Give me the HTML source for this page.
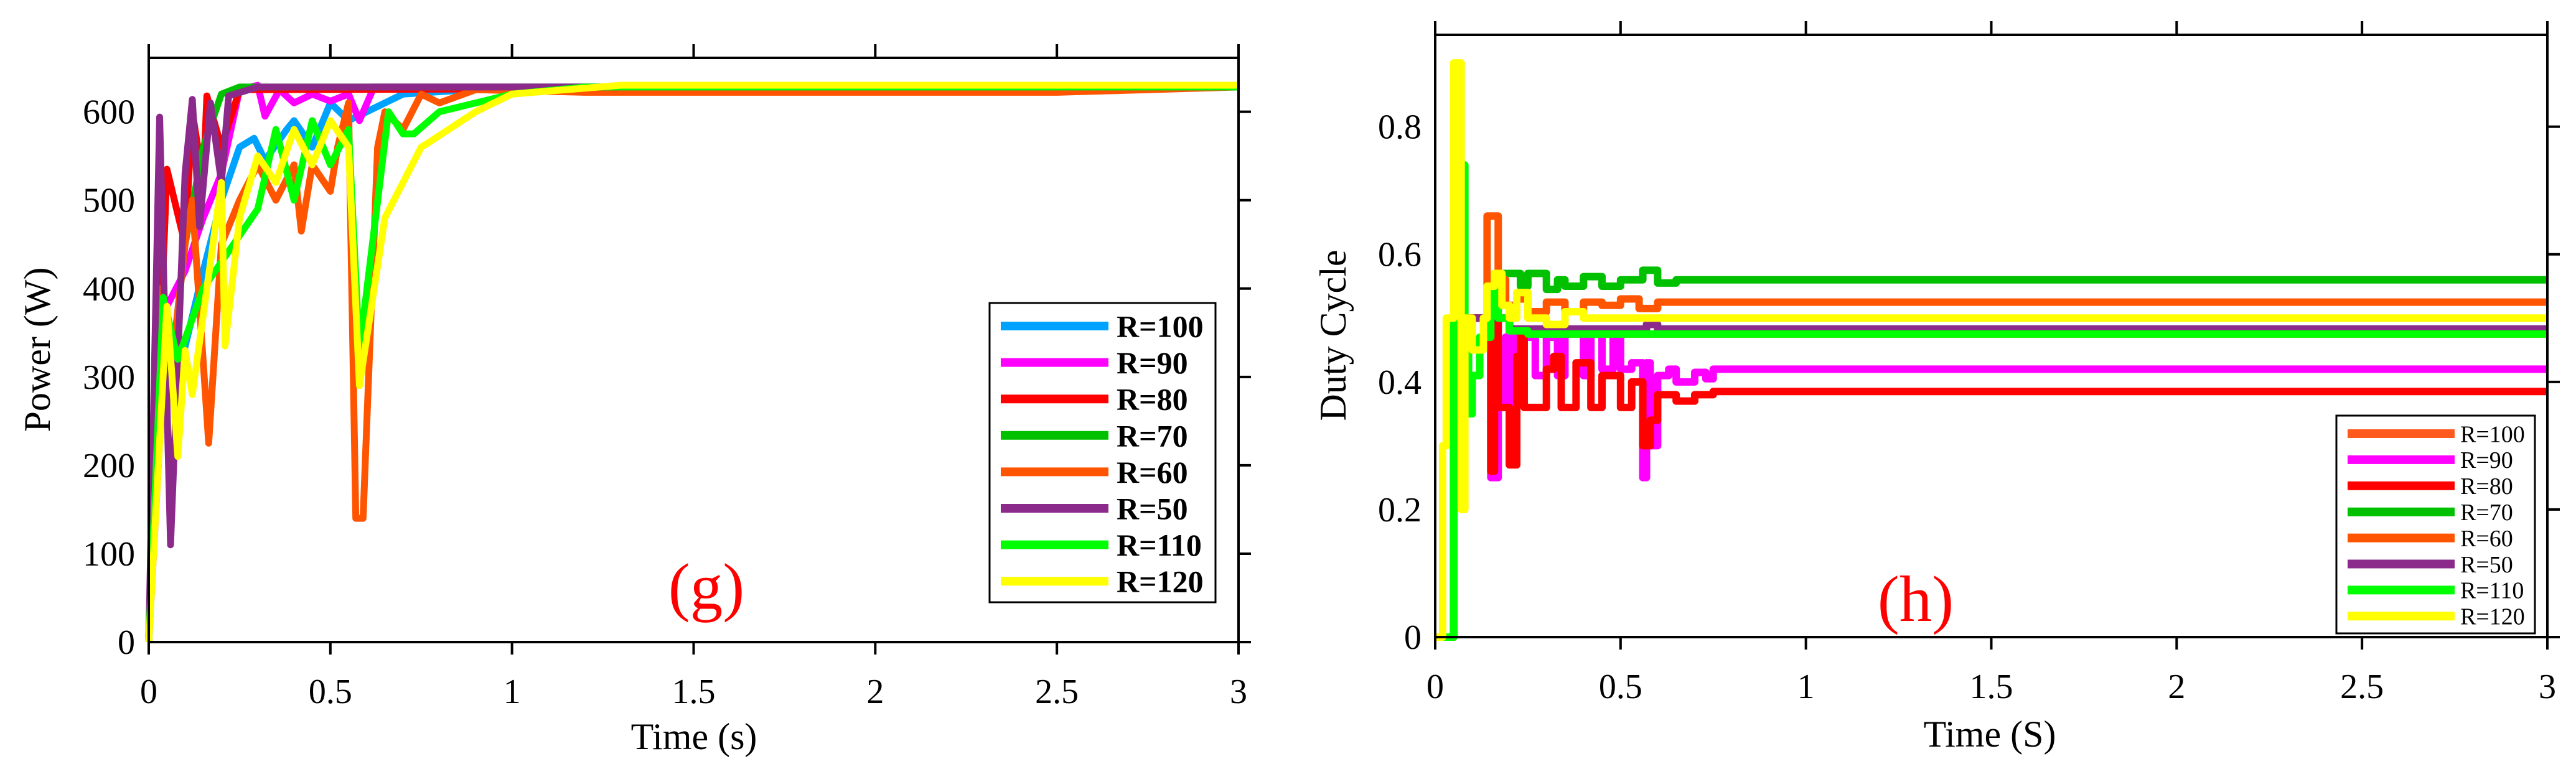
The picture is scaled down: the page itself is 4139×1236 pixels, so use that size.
<!DOCTYPE html>
<html><head><meta charset="utf-8"><style>
body{margin:0;background:#fff}
svg{display:block}
text{font-family:"Liberation Serif",serif;fill:#000}
</style></head><body>
<svg id="s" width="4139" height="1236" viewBox="0 0 4139 1236"></svg>
<script>
// ---- Chart (g) Power data ----
const gNames=["R=100","R=90","R=80","R=70","R=60","R=50","R=110","R=120"];
const gColors=["#00a2ff","#ff00ff","#ff0000","#00c000","#ff5500","#8b2a8b","#00ff00","#ffff00"];
const gR100=[[0,0],[0.04,360],[0.08,300],[0.15,420],[0.2,500],[0.25,560],[0.29,570],[0.32,545],[0.38,580],[0.4,590],[0.45,560],[0.5,610],[0.55,590],[0.6,600],[0.7,620],[1,628],[3,628]];
const gR90=[[0,0],[0.05,380],[0.1,420],[0.15,480],[0.2,530],[0.25,625],[0.3,630],[0.32,595],[0.36,625],[0.4,610],[0.45,620],[0.5,612],[0.55,620],[0.58,590],[0.62,628],[3,628]];
const gR80=[[0,0],[0.05,535],[0.1,450],[0.12,600],[0.15,520],[0.16,618],[0.2,560],[0.25,625],[3,628]];
const gR70=[[0,0],[0.03,390],[0.06,300],[0.1,450],[0.15,560],[0.2,620],[0.25,628],[3,628]];
const gR60=[[0,0],[0.03,400],[0.06,300],[0.1,450],[0.12,500],[0.165,225],[0.2,450],[0.25,500],[0.3,540],[0.35,500],[0.4,540],[0.42,465],[0.45,540],[0.5,510],[0.52,560],[0.55,610],[0.57,140],[0.59,140],[0.63,560],[0.65,600],[0.7,580],[0.75,620],[0.8,610],[0.9,625],[1.2,622],[2.5,622],[3,628]];
const gR50=[[0,0],[0.03,594],[0.06,110],[0.1,530],[0.12,614],[0.14,470],[0.17,610],[0.2,520],[0.22,618],[0.3,628],[3,628]];
const gR110=[[0,0],[0.04,390],[0.08,320],[0.15,400],[0.3,490],[0.35,580],[0.4,500],[0.45,590],[0.5,540],[0.55,580],[0.58,330],[0.66,600],[0.7,575],[0.73,575],[0.8,600],[0.9,610],[1.0,620],[1.2,628],[3,628]];
const gR120=[[0,0],[0.05,380],[0.08,210],[0.1,330],[0.12,280],[0.2,520],[0.21,335],[0.25,480],[0.3,550],[0.35,520],[0.4,580],[0.45,540],[0.5,590],[0.55,560],[0.58,290],[0.65,480],[0.75,560],[0.77,565],[0.9,600],[1.0,620],[1.3,630],[3,630]];
const gSeries=[gR100,gR90,gR80,gR70,gR60,gR50,gR110,gR120];
const gXTicks=[0,0.5,1,1.5,2,2.5,3];
const gYTicks=[0,100,200,300,400,500,600];
// ---- Chart (h) Duty data ----
const hColors=["#ff5a1e","#ff00ff","#ff0000","#00c000","#ff5500","#8b2a8b","#00ff00","#ffff00"];
const hR100=[[0,0],[0.05,0.5],[0.2,0.475],[3,0.475]];
const hR90=[[0,0],[0.05,0.5],[0.15,0.25],[0.17,0.36],[0.19,0.47],[0.21,0.29],[0.22,0.48],[0.25,0.47],[0.27,0.41],[0.3,0.47],[0.33,0.41],[0.35,0.48],[0.4,0.41],[0.42,0.48],[0.45,0.42],[0.48,0.47],[0.5,0.42],[0.53,0.43],[0.56,0.25],[0.57,0.43],[0.58,0.3],[0.6,0.41],[0.63,0.42],[0.65,0.4],[0.7,0.415],[0.73,0.405],[0.75,0.42],[3,0.42]];
const hR80=[[0,0],[0.05,0.5],[0.15,0.26],[0.16,0.52],[0.17,0.36],[0.2,0.27],[0.22,0.44],[0.23,0.48],[0.24,0.36],[0.3,0.42],[0.32,0.44],[0.34,0.36],[0.38,0.43],[0.42,0.36],[0.45,0.41],[0.5,0.36],[0.53,0.4],[0.56,0.3],[0.58,0.34],[0.6,0.38],[0.65,0.37],[0.7,0.38],[0.75,0.385],[3,0.385]];
const hR70=[[0,0],[0.05,0.5],[0.16,0.57],[0.23,0.55],[0.25,0.57],[0.3,0.545],[0.33,0.56],[0.35,0.55],[0.4,0.565],[0.45,0.55],[0.5,0.56],[0.56,0.575],[0.6,0.555],[0.65,0.56],[3,0.56]];
const hR60=[[0,0],[0.05,0.5],[0.14,0.66],[0.17,0.56],[0.19,0.52],[0.22,0.53],[0.25,0.51],[0.3,0.525],[0.35,0.51],[0.4,0.525],[0.45,0.52],[0.5,0.53],[0.55,0.515],[0.6,0.525],[3,0.525]];
const hR50=[[0,0],[0.05,0.5],[0.2,0.483],[0.55,0.483],[0.57,0.49],[0.6,0.483],[3,0.483]];
const hR110=[[0,0],[0.05,0.5],[0.07,0.74],[0.08,0.5],[0.09,0.35],[0.1,0.41],[0.12,0.47],[0.15,0.55],[0.17,0.5],[0.2,0.48],[0.25,0.475],[3,0.475]];
const hR120=[[0,0],[0.02,0.3],[0.03,0.5],[0.05,0.9],[0.07,0.2],[0.08,0.5],[0.1,0.45],[0.13,0.5],[0.14,0.55],[0.16,0.57],[0.18,0.52],[0.2,0.5],[0.22,0.54],[0.25,0.5],[0.3,0.49],[0.35,0.51],[0.4,0.5],[3,0.5]];
const hSeries=[hR100,hR90,hR80,hR70,hR60,hR50,hR110,hR120];
const hXTicks=[0,0.5,1,1.5,2,2.5,3];
const hYTicks=[0,0.2,0.4,0.6,0.8];

const NS="http://www.w3.org/2000/svg";
const svg=document.getElementById('s');
function mk(tag,attrs,parent,txt){const e=document.createElementNS(NS,tag);for(const k in attrs)e.setAttribute(k,attrs[k]);if(txt!==undefined)e.textContent=txt;(parent||svg).appendChild(e);return e;}

function chart(o){
  const g=mk('g',{});
  
  
  const sx=v=>o.x0+(v-o.xmin)/(o.xmax-o.xmin)*(o.x1-o.x0);
  const sy=v=>o.yb-(v-o.ymin)/(o.ymax-o.ymin)*(o.yb-o.yt);
  o.series.forEach((s,i)=>{
    let d='';
    s.forEach((p,j)=>{
      if(j===0)d+='M'+sx(p[0])+','+sy(p[1]);
      else if(o.step)d+='H'+sx(p[0])+'V'+sy(p[1]);
      else d+='L'+sx(p[0])+','+sy(p[1]);
    });
    const pth=mk('path',{d:d,fill:'none',stroke:o.colors[i],'stroke-width':o.lw,'stroke-linejoin':'round'},g);
    
    
  });
  const fr=mk('g',{stroke:'#000','stroke-width':4,fill:'none'},g);
  
  
  mk('line',{x1:o.x0,y1:o.yt,x2:o.x1,y2:o.yt},fr);
  mk('line',{x1:o.x0,y1:o.yb,x2:o.x1+20,y2:o.yb},fr);
  mk('line',{x1:o.x0,y1:o.yt-20,x2:o.x0,y2:o.yb+20},fr);
  mk('line',{x1:o.x1,y1:o.yt-20,x2:o.x1,y2:o.yb+20},fr);
  o.xticks.forEach(t=>{
    mk('line',{x1:sx(t),y1:o.yt,x2:sx(t),y2:o.yt-22},fr);
    mk('line',{x1:sx(t),y1:o.yb,x2:sx(t),y2:o.yb+20},fr);
    const tx=mk('text',{x:sx(t),y:o.yb+98,'text-anchor':'middle','font-size':56},g,String(t));
    
    
  });
  o.yticks.forEach(t=>{
    mk('line',{x1:o.x1,y1:sy(t),x2:o.x1+20,y2:sy(t)},fr);
    const tx=mk('text',{x:o.x0-22,y:sy(t)+19,'text-anchor':'end','font-size':56},g,String(t));
    
    
  });
  const xt=mk('text',{x:o.xtx,y:o.xty,'text-anchor':'middle','font-size':60},g,o.xtitle);
  
  
  const yt=mk('text',{x:0,y:0,'text-anchor':'middle','font-size':60,transform:'translate('+o.ytx+','+o.yty+') rotate(-90)'},g,o.ytitle);
  
  
  const pl=mk('text',{x:o.lbx,y:o.lby,'text-anchor':'middle','font-size':105,style:'fill:#ff0000'},g,o.label);
  
  
  const L=o.leg;
  const lg=mk('g',{},g);
  
  
  mk('rect',{x:L.x,y:L.y,width:L.w,height:L.h,fill:'#fff',stroke:'#000','stroke-width':3},lg);
  o.names.forEach((n,i)=>{
    const y=L.e0+i*L.step;
    const en=mk('g',{},lg);
    
    
    mk('line',{x1:L.l0,y1:y,x2:L.l1,y2:y,stroke:o.colors[i],'stroke-width':L.lw},en);
    mk('text',{x:L.tx,y:y+L.fs*0.35,'font-size':L.fs,style:L.bold?'font-weight:bold':''},en,n);
  });
}

chart({name:'power-chart',x0:239,x1:1990,yt:93,yb:1032,xmin:0,xmax:3,ymin:0,ymax:661,
  series:gSeries,colors:gColors,names:gNames,lw:11,step:false,xticks:gXTicks,yticks:gYTicks,
  xtitle:'Time (s)',xtx:1115,xty:1204,ytitle:'Power (W)',ytx:80,yty:562,label:'(g)',lbx:1135,lby:978,
  leg:{x:1590,y:487,w:363,h:481,e0:524,step:58.6,l0:1608,l1:1781,tx:1794,fs:50,lw:14,bold:true}});
chart({name:'duty-cycle-chart',x0:2306,x1:4093,yt:56,yb:1024,xmin:0,xmax:3,ymin:0,ymax:0.944,
  series:hSeries,colors:hColors,names:gNames,lw:12,step:true,xticks:hXTicks,yticks:hYTicks,
  xtitle:'Time (S)',xtx:3197,xty:1200,ytitle:'Duty Cycle',ytx:2162,yty:539,label:'(h)',lbx:3078,lby:998,
  leg:{x:3754,y:668,w:319,h:350,e0:697,step:41.9,l0:3772,l1:3944,tx:3953,fs:38,lw:14,bold:false}});
</script>
</body></html>
